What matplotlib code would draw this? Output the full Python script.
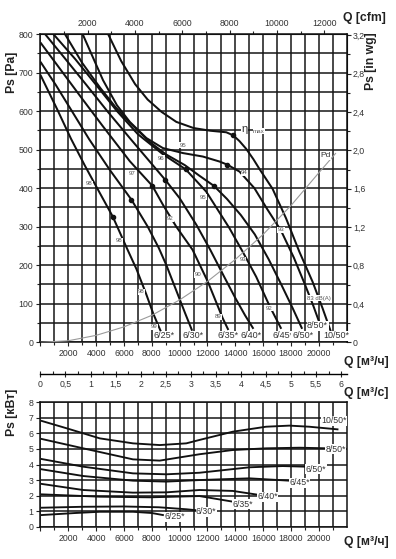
import matplotlib
matplotlib.use('Agg')
import matplotlib.pyplot as plt
from matplotlib import font_manager
from matplotlib.ticker import FixedLocator, FuncFormatter

names = {f.name for f in font_manager.fontManager.ttflist}
NARROW = 'Liberation Sans Narrow' if 'Liberation Sans Narrow' in names else 'Liberation Sans'
BOLD = 'Liberation Sans'
plt.rcParams['font.family'] = [NARROW, 'DejaVu Sans']

# ---------------- data: static pressure (Pa) vs Q (m3/h) ----------------
fan_names = ['6/25', '6/30', '6/35', '6/40', '6/45', '6/50', '8/50', '10/50']
q_625 = [0, 1200, 2200, 3200, 4000, 5200, 6200, 6900, 7600, 8100, 8450, 8750]
p_625 = [694, 605, 528, 458, 405, 326, 245, 190, 125, 75, 45, 20]
q_630 = [0, 1100, 2210, 3500, 4990, 6540, 7710, 8500, 9050, 9860, 10400, 10900]
p_630 = [728, 668, 603, 527, 447, 370, 300, 245, 200, 125, 75, 30]
q_635 = [0, 1500, 3000, 4500, 6420, 8040, 8800, 9760, 10930, 12030, 13100, 13500]
p_635 = [778, 705, 632, 560, 470, 406, 357, 300, 240, 157, 62, 32]
q_640 = [330, 1800, 3300, 4800, 6420, 8980, 10000, 11200, 12200, 13200, 14000, 14700, 15300]
p_640 = [800, 735, 668, 600, 530, 421, 374, 305, 240, 170, 115, 70, 35]
q_645 = [925, 2500, 4000, 5500, 7000, 8800, 10430, 11910, 13580, 14530, 15500, 16450, 17300]
p_645 = [800, 735, 668, 600, 540, 488, 449, 391, 296, 235, 170, 95, 35]
q_650 = [1760, 3000, 4300, 5400, 6420, 7850, 9000, 10360, 11430, 12460, 13400, 14400, 15400, 16400, 17300, 18100, 18800]
p_650 = [800, 725, 660, 610, 570, 520, 488, 460, 432, 406, 372, 330, 280, 215, 150, 90, 35]
q_850 = [3030, 4500, 5500, 6420, 7610, 8800, 10240, 11670, 12870, 13420, 14300, 15370, 16300, 17280, 18200, 19000, 19600, 20100]
p_850 = [800, 680, 615, 572, 530, 504, 491, 482, 469, 461, 443, 400, 345, 290, 220, 150, 95, 45]
q_1050 = [4860, 5800, 6800, 7700, 8700, 9760, 11000, 12200, 13350, 13850, 14300, 14780, 15300, 15730, 16680, 17640, 18600, 19550, 20270, 20860]
p_1050 = [800, 730, 670, 630, 598, 572, 556, 549, 545, 537, 522, 502, 475, 450, 398, 322, 235, 157, 88, 28]

# max-efficiency points
eff_q = [5200, 6540, 8040, 8980, 10430, 12460, 13420, 13850]
eff_p = [326, 370, 406, 421, 449, 406, 461, 537]

# dynamic pressure line
pd_q = [0, 2000, 4000, 6000, 8000, 10000, 12000, 14000, 16000, 18000, 20000, 21200]
pd_p = [0, 4, 18, 40, 70, 110, 158, 215, 280, 355, 440, 490]

# noise labels dB(A)
db_text = ['98', '98', '98', '99', '97', '96', '95', '94', '95', '92', '93', '90', '89', '92', '93', '83 dB(A)']
db_q = [3530, 5630, 7260, 8190, 6560, 8690, 10240, 14650, 11670, 9330, 14530, 11310, 12740, 16450, 17280, 20030]
db_p = [411, 263, 131, 40, 439, 478, 511, 440, 377, 320, 214, 175, 66, 88, 292, 114]

# fan label positions (top chart)
lab_q = [8850, 10950, 13460, 15130, 17400, 18830, 19910, 21220]
lab_p = [17, 17, 17, 17, 17, 17, 43, 17]

# ---------------- data: power (kW) vs Q (m3/h) ----------------
pq_625 = [100, 2500, 4270, 6650, 8000, 8800]
pw_625 = [0.75, 0.88, 0.96, 0.96, 0.88, 0.75]
pq_630 = [100, 3000, 6000, 8500, 10500, 11400]
pw_630 = [1.22, 1.28, 1.30, 1.25, 1.12, 1.04]
pq_635 = [100, 4270, 7850, 11430, 13820]
pw_635 = [2.08, 1.93, 1.89, 1.97, 1.61]
pq_640 = [100, 3070, 6650, 9050, 11430, 13820, 15730]
pw_640 = [2.75, 2.36, 2.19, 2.21, 2.36, 2.30, 2.04]
pq_645 = [100, 3070, 6650, 9050, 11430, 15010, 17880]
pw_645 = [3.69, 3.26, 2.96, 2.90, 3.00, 3.11, 2.96]
pq_650 = [100, 3070, 6650, 9050, 11430, 15010, 17400, 19070]
pw_650 = [4.35, 3.86, 3.43, 3.37, 3.47, 3.82, 3.90, 3.86]
pq_850 = [100, 3070, 6650, 8570, 11430, 13800, 16210, 18600, 20620]
pw_850 = [5.64, 5.04, 4.33, 4.25, 4.66, 4.93, 5.04, 5.08, 5.04]
pq_1050 = [100, 1880, 4270, 6650, 8570, 10480, 11430, 13820, 16210, 17880, 19310, 21340]
pw_1050 = [6.80, 6.33, 5.68, 5.36, 5.25, 5.36, 5.58, 6.11, 6.43, 6.50, 6.43, 6.26]

plab_q = [9640, 11910, 14530, 16330, 18600, 19790, 21220, 21100]
plab_p = [0.64, 0.96, 1.44, 1.93, 2.83, 3.69, 4.98, 6.80]

x_major = list(range(0, 20001, 2000))
x_minor = list(range(1000, 22000, 2000))

# ---------------- figure ----------------
W, H = 396, 559
fig = plt.figure(figsize=(W / 100, H / 100), dpi=100)


def rect(x0, y0, x1, y1):
    return [x0 / W, (H - y1) / H, (x1 - x0) / W, (y1 - y0) / H]


def comma(fmt):
    return FuncFormatter(lambda v, p: '0' if abs(v) < 1e-9 else (fmt % v).replace('.', ','))


GRID = '#161616'
CURVE = '#111111'
TXT = '#333333'
TICKKW = dict(labelsize=6.3, labelcolor=TXT, color='#222222', width=0.8)

# ---- top chart ----
ax = fig.add_axes(rect(40.4, 34, 346.7, 342.3))
ax.set_xlim(0, 22000)
ax.set_ylim(0, 800)
ax.xaxis.set_major_locator(FixedLocator(x_major))
ax.xaxis.set_minor_locator(FixedLocator(x_minor))
ax.xaxis.set_major_formatter(FuncFormatter(lambda v, p: '' if v == 0 else '%d' % v))
ax.yaxis.set_major_locator(FixedLocator(list(range(0, 801, 100))))
ax.yaxis.set_minor_locator(FixedLocator(list(range(50, 800, 100))))
ax.grid(which='both', color=GRID, lw=1.1, zorder=1)
ax.set_axisbelow(True)
ax.tick_params(which='major', length=3, pad=2, **TICKKW)
ax.tick_params(which='minor', length=2, color='#222222', width=0.8)
for s in ax.spines.values():
    s.set_color('#111111')
    s.set_linewidth(1.1)

fan_q = [q_625, q_630, q_635, q_640, q_645, q_650, q_850, q_1050]
fan_p = [p_625, p_630, p_635, p_640, p_645, p_650, p_850, p_1050]
for qs, ps in zip(fan_q, fan_p):
    ax.plot(qs, ps, color=CURVE, lw=1.45, zorder=3, solid_capstyle='butt')
ax.plot(pd_q, pd_p, color='#9a9a9a', lw=0.8, zorder=3)
ax.scatter(eff_q, eff_p, s=9, color='#111111', zorder=4)

box = dict(facecolor='white', edgecolor='none', pad=0.3)
for t, q, p in zip(db_text, db_q, db_p):
    ax.text(q, p, t, fontsize=4.3, color='#555555', ha='center', va='center', zorder=5, bbox=box)
for t, q, p in zip(fan_names, lab_q, lab_p):
    ax.text(q, p, t + '*', fontsize=6.5, color=TXT, ha='center', va='center', zorder=5,
            bbox=dict(facecolor='white', edgecolor='none', pad=0.4))
ax.text(14650, 553, 'η', fontsize=8, color=TXT, ha='center', va='center', zorder=5,
        bbox=dict(facecolor='white', edgecolor='none', pad=0.2))
ax.text(15280, 548, 'max', fontsize=4.5, color='#555555', ha='left', va='center', zorder=5,
        bbox=dict(facecolor='white', edgecolor='none', pad=0.2))
ax.text(20500, 484, 'Pd', fontsize=6, color=TXT, ha='center', va='center', zorder=5,
        bbox=dict(facecolor='white', edgecolor='none', pad=0.3))

top = ax.secondary_xaxis('top', functions=(lambda q: q / 1.699, lambda c: c * 1.699))
top.xaxis.set_major_locator(FixedLocator(list(range(2000, 12001, 2000))))
top.xaxis.set_minor_locator(FixedLocator(list(range(1000, 13000, 2000))))
top.xaxis.set_major_formatter(FuncFormatter(lambda v, p: '%d' % v))
top.tick_params(which='major', length=3, pad=1.5, **TICKKW)
top.tick_params(which='minor', length=2, color='#222222', width=0.8)

right = ax.secondary_yaxis('right', functions=(lambda p: p / 249.09, lambda w: w * 249.09))
right.yaxis.set_major_locator(FixedLocator([0, 0.4, 0.8, 1.2, 1.6, 2.0, 2.4, 2.8, 3.2]))
right.yaxis.set_minor_locator(FixedLocator([0.2, 0.6, 1.0, 1.4, 1.8, 2.2, 2.6, 3.0]))
right.yaxis.set_major_formatter(comma('%.1f'))
right.tick_params(which='major', length=3, pad=1.5, **TICKKW)
right.tick_params(which='minor', length=2, color='#222222', width=0.8)

# ---- middle m3/s axis ----
axm = fig.add_axes(rect(40.4, 368, 346.7, 374))
axm.set_xlim(0, 22000 / 3600)
axm.set_ylim(0, 1)
for k in ('top', 'left', 'right'):
    axm.spines[k].set_visible(False)
axm.spines['bottom'].set_linewidth(1.0)
axm.set_yticks([])
axm.xaxis.set_major_locator(FixedLocator([i * 0.5 for i in range(13)]))
axm.xaxis.set_minor_locator(FixedLocator([i * 0.5 + 0.25 for i in range(12)]))
axm.xaxis.set_major_formatter(comma('%g'))
axm.tick_params(axis='x', which='major', direction='inout', length=5, pad=2, **TICKKW)
axm.tick_params(axis='x', which='minor', direction='in', length=2, color='#222222', width=0.8)
axm.patch.set_alpha(0)

# ---- power chart ----
axp = fig.add_axes(rect(40.4, 402.3, 346.7, 526.7))
axp.set_xlim(0, 22000)
axp.set_ylim(0, 8)
axp.xaxis.set_major_locator(FixedLocator(x_major))
axp.xaxis.set_minor_locator(FixedLocator(x_minor))
axp.xaxis.set_major_formatter(FuncFormatter(lambda v, p: '' if v == 0 else '%d' % v))
axp.yaxis.set_major_locator(FixedLocator(list(range(0, 9))))
axp.grid(which='both', color=GRID, lw=1.1, zorder=1)
axp.set_axisbelow(True)
axp.tick_params(which='major', length=3, pad=2, **TICKKW)
axp.tick_params(which='minor', length=2, color='#222222', width=0.8)
for s in axp.spines.values():
    s.set_color('#111111')
    s.set_linewidth(1.1)

pw_q = [pq_625, pq_630, pq_635, pq_640, pq_645, pq_650, pq_850, pq_1050]
pw_p = [pw_625, pw_630, pw_635, pw_640, pw_645, pw_650, pw_850, pw_1050]
for qs, ps in zip(pw_q, pw_p):
    axp.plot(qs, ps, color=CURVE, lw=1.35, zorder=3)
for t, q, p in zip(fan_names, plab_q, plab_p):
    axp.text(q, p, t + '*', fontsize=6.3, color=TXT, ha='center', va='center', zorder=5,
             bbox=dict(facecolor='white', edgecolor='none', pad=0.3))

# ---- axis titles ----
def ftxt(x, y, s, rot=0):
    fig.text(x / W, 1 - y / H, s, fontsize=8.8, fontweight='bold', family=[BOLD, 'DejaVu Sans'],
             color='#222222', ha='center', va='center', rotation=rot)

ftxt(11.5, 72, 'Ps [Pa]', 90)
ftxt(364, 18, 'Q [cfm]')
ftxt(371, 61, 'Ps [in wg]', 90)
ftxt(366, 362, 'Q [м³/ч]')
ftxt(366, 393, 'Q [м³/с]')
ftxt(11.5, 412, 'Ps [кВт]', 90)
ftxt(366, 542, 'Q [м³/ч]')

fig.savefig('out.png', dpi=100, facecolor='white')
